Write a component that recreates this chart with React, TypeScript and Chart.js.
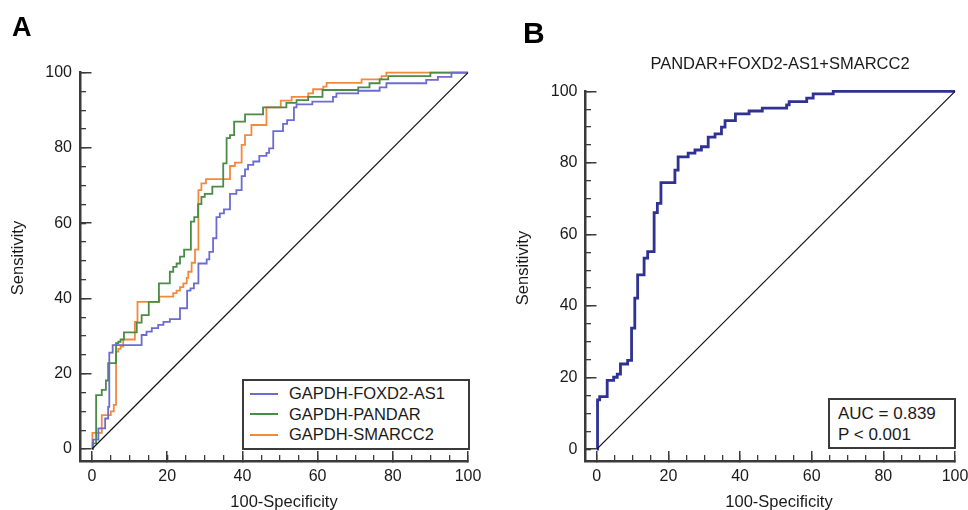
import React, { useEffect, useRef } from 'react';
import { Chart, registerables } from 'chart.js';

Chart.register(...registerables);

const FONT = '"Liberation Sans", Arial, Helvetica, sans-serif';

// ---- axis ticks ----
const majorTicks = [0, 20, 40, 60, 80, 100];
const minorTicks = [0, 5, 10, 15, 20, 25, 30, 35, 40, 45, 50, 55, 60, 65, 70, 75, 80, 85, 90, 95, 100];

// ---- reference diagonal ----
const diagX = [0, 100];
const diagY = [0, 100];

// ---- panel A ----
const seriesNamesA = ['GAPDH-FOXD2-AS1', 'GAPDH-PANDAR', 'GAPDH-SMARCC2'];
const seriesColorsA = ['#6b6bd2', '#4a8c45', '#f28a3e'];

const foxd2X = [0, 0.3, 1.7, 3.5, 4.3, 4.6, 5.5, 13.2, 14.5, 15.9, 17.6, 19.0, 20.7, 23.4, 25.3, 26.2, 27.1, 28.3, 30.5, 31.2, 32.2, 33.1, 34.0, 35.1, 36.7, 38.4, 39.8, 40.7, 41.5, 42.9, 44.5, 46.4, 47.1, 48.2, 50.8, 51.9, 53.7, 54.4, 58.6, 64.1, 65.0, 70.8, 76.5, 78.3, 88.9, 92.0, 95.6, 100];
const foxd2Y = [0, 2.5, 5.5, 8.1, 11.2, 25.6, 27.6, 30.3, 31.2, 32.1, 33.0, 33.8, 34.5, 37.4, 42.1, 42.7, 44.0, 49.3, 50.4, 52.4, 56.0, 61.6, 62.6, 63.7, 67.8, 68.8, 72.5, 74.3, 75.5, 76.4, 77.9, 78.7, 79.9, 84.5, 86.4, 87.4, 90.8, 91.6, 92.3, 93.6, 94.5, 95.2, 96.1, 97.2, 98.1, 98.9, 100, 100];

const pandarX = [0, 0.2, 1.1, 2.6, 3.7, 4.3, 6.4, 7.0, 7.6, 8.5, 11.9, 13.2, 15.1, 17.8, 20.7, 21.6, 22.5, 23.4, 24.5, 26.3, 27.2, 28.2, 29.1, 30.0, 32.0, 34.9, 35.8, 36.7, 37.8, 40.7, 45.5, 51.7, 54.4, 57.5, 61.3, 70.8, 73.8, 76.5, 78.8, 90.0, 100];
const pandarY = [0, 1.5, 14.3, 15.7, 18.2, 22.8, 28.1, 28.5, 29.1, 31.0, 33.6, 35.6, 39.1, 44.0, 47.1, 48.4, 49.3, 51.1, 53.0, 60.4, 61.6, 65.1, 67.0, 67.8, 69.7, 75.9, 82.6, 83.4, 87.0, 88.9, 90.8, 92.0, 92.7, 93.6, 95.4, 96.1, 97.2, 98.2, 99.1, 100, 100];

const smarcc2X = [0, 0.1, 2.6, 5.0, 5.8, 6.4, 7.0, 7.6, 8.3, 11.4, 12.1, 17.9, 21.6, 22.5, 23.4, 24.3, 25.2, 25.6, 26.5, 27.4, 28.3, 29.1, 30.3, 36.7, 38.0, 39.8, 40.7, 42.4, 46.4, 50.2, 53.1, 57.5, 58.8, 61.5, 62.4, 71.7, 77.0, 78.3, 100];
const smarcc2Y = [0, 4.3, 9.0, 10.0, 11.7, 25.9, 26.6, 27.2, 29.1, 33.8, 39.1, 40.5, 41.4, 42.1, 43.0, 44.0, 45.5, 47.1, 49.5, 53.0, 68.8, 70.6, 71.7, 75.2, 76.1, 80.8, 83.4, 86.1, 90.8, 92.6, 93.6, 94.5, 95.6, 96.3, 97.3, 98.2, 99.1, 100, 100];

// ---- panel B ----
const titleB = 'PANDAR+FOXD2-AS1+SMARCC2';
const comboColor = '#2f3193';
const comboX = [0, 0.2, 0.8, 2.9, 4.7, 5.7, 6.6, 8.6, 9.7, 10.6, 11.4, 13.2, 14.2, 16.0, 16.9, 17.9, 21.8, 22.7, 25.5, 27.4, 29.2, 31.1, 33.0, 34.8, 35.8, 38.7, 42.5, 46.2, 53.0, 53.7, 58.6, 60.4, 66.0, 100];
const comboY = [0, 13.8, 14.7, 19.2, 20.1, 21.0, 23.8, 24.8, 33.8, 42.2, 48.7, 53.4, 55.2, 66.1, 68.7, 74.5, 78.0, 81.7, 82.7, 83.6, 84.5, 87.2, 88.1, 90.0, 91.8, 93.7, 94.5, 95.3, 96.2, 97.1, 98.1, 99.3, 100, 100];
const aucLines = ['AUC = 0.839', 'P < 0.001'];

const xTitle = '100-Specificity';
const yTitle = 'Sensitivity';

function toPts(xs: number[], ys: number[]) {
  return xs.map((x, i) => ({ x, y: ys[i] }));
}

const AXIS = '#3a3a3a';
const TEXT = '#1a1a1a';

function noPad(s: any) {
  s.paddingLeft = 0;
  s.paddingRight = 0;
  s.paddingTop = 0;
  s.paddingBottom = 0;
}

function makeScales(min: number, yWidth: number, yTickPad: number) {
  const tickFont = { family: FONT, size: 16 };
  return {
    x: {
      type: 'linear', position: 'bottom', min, max: 100, weight: 1,
      afterBuildTicks: (s: any) => { s.ticks = majorTicks.map((v) => ({ value: v })); },
      afterFit: (s: any) => { s.height = 49; noPad(s); },
      grid: { drawOnChartArea: false, drawTicks: true, tickLength: -10, color: AXIS, lineWidth: 1.5 },
      border: { display: true, color: AXIS, width: 2.5 },
      ticks: { padding: 16.4, color: TEXT, font: tickFont, maxRotation: 0, autoSkip: false },
      title: { display: false },
    },
    xm: {
      type: 'linear', position: 'bottom', min, max: 100, weight: 0,
      afterBuildTicks: (s: any) => { s.ticks = minorTicks.map((v) => ({ value: v })); },
      afterFit: (s: any) => { s.height = 0; noPad(s); },
      grid: { drawOnChartArea: false, drawTicks: true, tickLength: -6, color: AXIS, lineWidth: 1.3 },
      border: { display: false },
      ticks: { display: false },
    },
    y: {
      type: 'linear', position: 'left', min, max: 100, weight: 1,
      afterBuildTicks: (s: any) => { s.ticks = majorTicks.map((v) => ({ value: v })); },
      afterFit: (s: any) => { s.width = yWidth; noPad(s); },
      grid: { drawOnChartArea: false, drawTicks: true, tickLength: -11.5, color: AXIS, lineWidth: 1.5 },
      border: { display: true, color: AXIS, width: 2.5 },
      ticks: { padding: yTickPad, color: TEXT, font: tickFont, autoSkip: false },
      title: { display: false },
    },
    ym: {
      type: 'linear', position: 'left', min, max: 100, weight: 0,
      afterBuildTicks: (s: any) => { s.ticks = minorTicks.map((v) => ({ value: v })); },
      afterFit: (s: any) => { s.width = 0; noPad(s); },
      grid: { drawOnChartArea: false, drawTicks: true, tickLength: -6, color: AXIS, lineWidth: 1.3 },
      border: { display: false },
      ticks: { display: false },
    },
  };
}

function diagDataset() {
  return {
    label: 'diag',
    data: toPts(diagX, diagY),
    borderColor: '#111',
    borderWidth: 1.2,
    pointRadius: 0,
    fill: false,
    clip: false,
  };
}

function rocDataset(label: string, xs: number[], ys: number[], color: string, width: number) {
  return {
    label,
    data: toPts(xs, ys),
    borderColor: color,
    borderWidth: width,
    pointRadius: 0,
    stepped: 'before',
    fill: false,
    clip: false,
  };
}

function baseOptions(scales: any, padding: any) {
  return {
    responsive: false,
    animation: false,
    devicePixelRatio: 1,
    layout: { padding },
    plugins: { legend: { display: false }, tooltip: { enabled: false }, title: { display: false } },
    scales,
  };
}

export default function App() {
  const refA = useRef<HTMLCanvasElement>(null);
  const refB = useRef<HTMLCanvasElement>(null);

  useEffect(() => {
    const chartA = new Chart(refA.current as HTMLCanvasElement, {
      type: 'line',
      data: {
        datasets: [
          diagDataset(),
          rocDataset(seriesNamesA[0], foxd2X, foxd2Y, seriesColorsA[0], 1.8),
          rocDataset(seriesNamesA[1], pandarX, pandarY, seriesColorsA[1], 1.8),
          rocDataset(seriesNamesA[2], smarcc2X, smarcc2Y, seriesColorsA[2], 1.8),
        ] as any,
      },
      options: baseOptions(makeScales(-3.19, 80, 19.5), { left: 0, right: 16, top: 72.7, bottom: 0 }) as any,
    });
    const chartB = new Chart(refB.current as HTMLCanvasElement, {
      type: 'line',
      data: {
        datasets: [
          diagDataset(),
          rocDataset(titleB, comboX, comboY, comboColor, 2.8),
        ] as any,
      },
      options: baseOptions(makeScales(-3.3, 101, 19), { left: 0, right: 13, top: 91.3, bottom: 0 }) as any,
    });
    return () => {
      chartA.destroy();
      chartB.destroy();
    };
  }, []);

  const abs = (o: any) => ({ position: 'absolute' as const, ...o });
  const xTitleStyle = (cx: number) => abs({ left: cx - 100, top: 490.5, width: 200, textAlign: 'center', fontSize: 16.5, lineHeight: '20px', whiteSpace: 'nowrap' });
  const yTitleStyle = (cx: number, cy: number) => abs({ left: cx - 60, top: cy - 10, width: 120, height: 20, textAlign: 'center', fontSize: 16.5, lineHeight: '20px', whiteSpace: 'nowrap', transform: 'rotate(-90deg)', transformOrigin: '50% 50%' });

  return (
    <div style={abs({ left: 0, top: 0, width: 968, height: 510, background: '#fff', fontFamily: FONT, color: TEXT, overflow: 'hidden' })}>
      <canvas ref={refA} width={484} height={510} style={abs({ left: 0, top: 0, width: 484, height: 510 })} />
      <canvas ref={refB} width={484} height={510} style={abs({ left: 484, top: 0, width: 484, height: 510 })} />

      <div style={abs({ left: 12, top: 13.6, fontSize: 27, lineHeight: '27px', fontWeight: 'bold', color: '#000' })}>A</div>
      <div style={abs({ left: 523, top: 17.6, fontSize: 30, lineHeight: '30px', fontWeight: 'bold', color: '#000' })}>B</div>

      <div style={abs({ left: 580, top: 53.3, width: 400, textAlign: 'center', fontSize: 16.5, lineHeight: '20px', whiteSpace: 'nowrap' })}>{titleB}</div>

      <div style={xTitleStyle(284)}>{xTitle}</div>
      <div style={xTitleStyle(779)}>{xTitle}</div>
      <div style={yTitleStyle(16.7, 258)}>{yTitle}</div>
      <div style={yTitleStyle(522.4, 267.5)}>{yTitle}</div>

      <div style={abs({ left: 242, top: 379, width: 228, height: 71, border: `2px solid ${AXIS}`, boxSizing: 'border-box', background: '#fff' })}>
        {seriesNamesA.map((name, i) => (
          <div key={name} style={abs({ left: 0, top: 2.25 + i * 20.5, height: 20.5, width: 220 })}>
            <div style={abs({ left: 6, top: 9.25, width: 28, height: 2, background: seriesColorsA[i] })} />
            <div style={abs({ left: 45, top: 0, fontSize: 16.5, lineHeight: '20.5px', whiteSpace: 'nowrap' })}>{name}</div>
          </div>
        ))}
      </div>

      <div style={abs({ left: 828, top: 398, width: 128, height: 51, border: `2px solid ${AXIS}`, boxSizing: 'border-box', background: '#fff' })}>
        {aucLines.map((t, i) => (
          <div key={t} style={abs({ left: 8, top: 2.5 + i * 21, fontSize: 17, lineHeight: '21px', whiteSpace: 'nowrap' })}>{t}</div>
        ))}
      </div>
    </div>
  );
}
